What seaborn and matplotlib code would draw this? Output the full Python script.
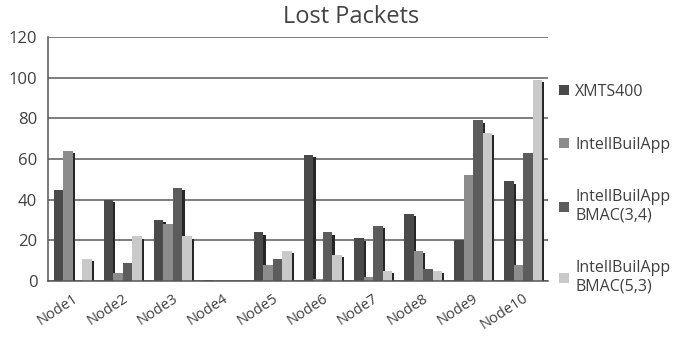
import matplotlib
matplotlib.use("Agg")
import matplotlib.pyplot as plt
import matplotlib.patheffects as pe
import numpy as np
import pandas as pd
import seaborn as sns

nodes = ["Node1", "Node2", "Node3", "Node4", "Node5",
         "Node6", "Node7", "Node8", "Node9", "Node10"]
series = ["XMTS400", "IntellBuilApp",
          "IntellBuilApp\nBMAC(3,4)", "IntellBuilApp\nBMAC(5,3)"]
xmts400 = [45, 40, 30, 0.4, 24, 62, 21, 33, 20, 49]
intellbuil = [64, 4, 28, 0, 8, 1, 2, 15, 52, 8]
bmac_34 = [0, 9, 46, 0, 11, 24, 27, 6, 79, 63]
bmac_53 = [11, 22, 22, 0, 15, 13, 5, 5, 73, 99]
colors = ["#4a4a4a", "#8c8c8c", "#5c5c5c", "#c9c9c9"]
y_ticks = [0, 20, 40, 60, 80, 100, 120]

df = pd.DataFrame({
    "node": nodes * 4,
    "series": np.repeat(series, len(nodes)),
    "packets": xmts400 + intellbuil + bmac_34 + bmac_53,
})

sns.set_theme(style="white")
plt.rcParams["font.family"] = ["Open Sans", "DejaVu Sans"]

fig = plt.figure(figsize=(6.81, 3.47), dpi=100)
ax = fig.add_axes([0.070, 0.190, 0.735, 0.703])

sns.barplot(data=df, x="node", y="packets", hue="series", order=nodes,
            hue_order=series, palette=colors, width=0.76, saturation=1,
            errorbar=None, ax=ax, legend=True)

for p in ax.patches:
    p.set_linewidth(0)
    p.set_path_effects([pe.SimplePatchShadow(offset=(1.6, -1.6),
                                             shadow_rgbFace="#262626", alpha=1),
                        pe.Normal()])

ax.set_ylim(0, 120)
ax.set_xlim(-0.5, 9.5)
ax.set_yticks(y_ticks)
ax.yaxis.grid(True, color="#5a5a5a", linewidth=1.1)
ax.set_axisbelow(True)
for s in ["top", "right"]:
    ax.spines[s].set_visible(False)
for s in ["left", "bottom"]:
    ax.spines[s].set_color("#555555")
    ax.spines[s].set_linewidth(1.1)

ax.set_xlabel("")
ax.set_ylabel("")
ax.set_xticks(np.arange(-0.5, 10, 1), minor=True)
ax.tick_params(axis="x", which="major", length=0, pad=7)
ax.tick_params(axis="x", which="minor", length=4, color="#555555", width=1)
ax.tick_params(axis="y", which="major", length=4, color="#555555", width=1,
               labelsize=12, labelcolor="#404040")
for lab in ax.get_xticklabels():
    lab.set_rotation(33)
    lab.set_ha("right")
    lab.set_rotation_mode("anchor")
    lab.set_fontsize(10.5)
    lab.set_color("#404040")

fig.suptitle("Lost Packets", x=0.515, y=0.985, fontsize=17, color="#444444")

handles, labels = ax.get_legend_handles_labels()
ax.get_legend().remove()
for h in handles:
    h.set_path_effects([])
fig.legend(handles, labels, loc="upper left", bbox_to_anchor=(0.80, 0.80),
           frameon=False, fontsize=11.5, labelcolor="#404040",
           handlelength=0.6, handleheight=0.6, handletextpad=0.4,
           labelspacing=2.3)

fig.savefig("out.png", dpi=100)
